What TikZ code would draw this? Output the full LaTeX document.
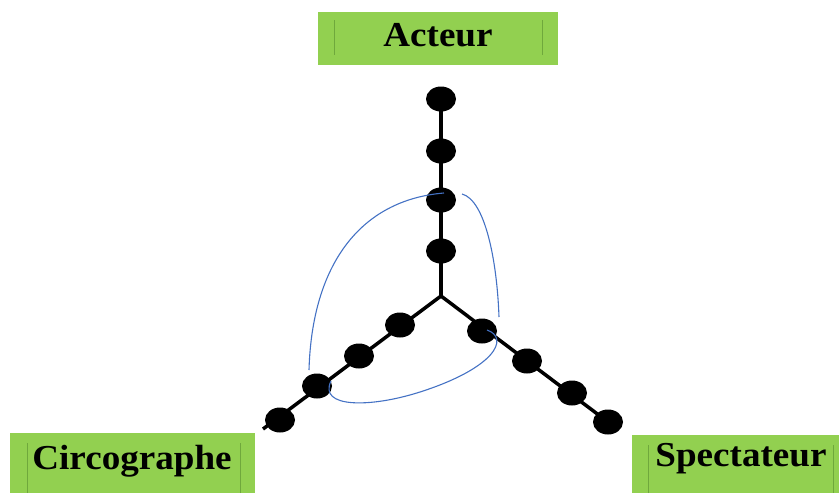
\documentclass[tikz,border=0pt]{standalone}
\usepackage{fontspec}
\setmainfont{Liberation Serif}
\usetikzlibrary{shapes.geometric}
\definecolor{boxgreen}{HTML}{92D050}
\definecolor{linegreen}{HTML}{6FA83C}
\definecolor{curveblue}{HTML}{4472C4}
\tikzset{
  dot/.style={ellipse, fill=black, minimum width=30pt, minimum height=25pt, inner sep=0pt},
  arm/.style={line width=3.5pt, black},
  loopline/.style={curveblue, line width=1.1pt},
  lbl/.style={anchor=base, font=\fontsize{35}{40}\selectfont\bfseries, inner sep=0pt, xscale=1.06},
  sep/.style={linegreen, line width=0.8pt}
}
\begin{document}
\begin{tikzpicture}[x=1pt,y=-1pt]
\useasboundingbox (0,0) rectangle (839,493);
% boxes
\fill[boxgreen] (318,12) rectangle (558,65);
\draw[sep] (334,20) -- (334,55);
\draw[sep] (542,20) -- (542,55);
\node[lbl] (acteur) at (438,46) {Acteur};
\fill[boxgreen] (10,433) rectangle (255,493);
\draw[sep] (27,443) -- (27,493);
\draw[sep] (240,443) -- (240,493);
\node[lbl] (circo) at (132,469) {Circographe};
\fill[boxgreen] (632,435) rectangle (839,493);
\draw[sep] (648,445) -- (648,493);
\draw[sep] (833,445) -- (833,493);
\node[lbl] (spect) at (741,466) {Spectateur};
% skeleton
\coordinate (c) at (441,296);
\coordinate (tend) at (441,99);
\coordinate (lend) at (263,429);
\coordinate (rend) at (608,422);
\draw[arm] (c) -- (tend);
\draw[arm] (c) -- (lend);
\draw[arm] (c) -- (rend);
% dots
\node[dot] (t1) at (441,99) {};
\node[dot] (t2) at (441,151) {};
\node[dot] (t3) at (441,200) {};
\node[dot] (t4) at (441,251) {};
\node[dot] (l1) at (400,325) {};
\node[dot] (l2) at (359,356) {};
\node[dot] (l3) at (317,386) {};
\node[dot] (l4) at (280,420) {};
\node[dot] (r1) at (482,331) {};
\node[dot] (r2) at (527,361) {};
\node[dot] (r3) at (572,393) {};
\node[dot] (r4) at (608,422) {};
% blue curves
\coordinate (a1) at (309,370);
\coordinate (a2) at (444,193);
\coordinate (b1) at (462,194);
\coordinate (b2) at (499,317);
\coordinate (e1) at (487,330);
\coordinate (e2) at (420,392);
\coordinate (e3) at (331,381);
\draw[loopline] (a1) .. controls (312,265) and (360,200) .. (a2);
\draw[loopline] (b1) .. controls (485,200) and (497,260) .. (b2);
\draw[loopline] (e1) .. controls (510,338) and (495,368) .. (e2)
                     .. controls (370,408) and (318,408) .. (e3);
\end{tikzpicture}
\end{document}
